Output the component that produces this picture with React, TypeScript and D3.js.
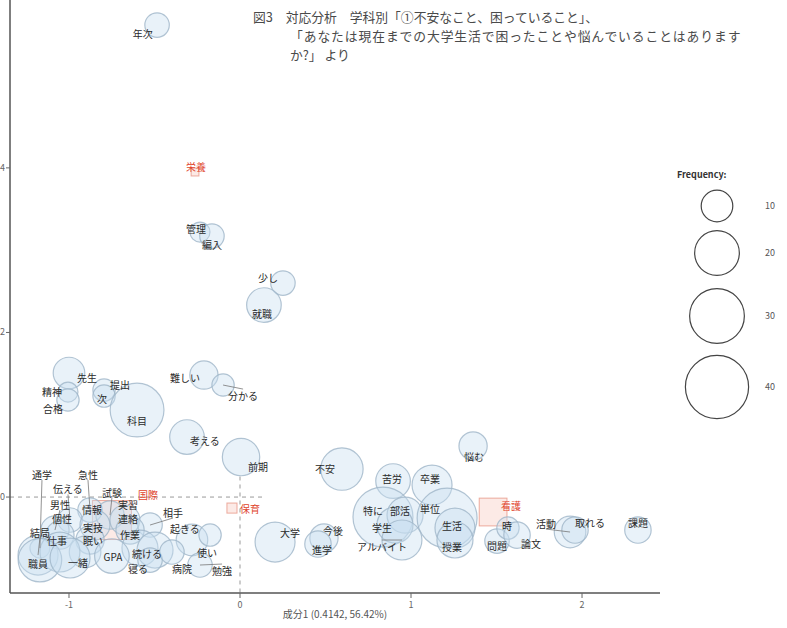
import React from "react";
import * as d3 from "d3";

// ---- data (correspondence analysis, dims 1 & 2) ----
const words = ["年次","管理","編入","少し","就職","先生","精神","合格","提出","次","科目","難しい","分かる","考える","前期","不安","悩む","苦労","卒業","特に","部活","単位","学生","アルバイト","生活","授業","問題","時","論文","活動","取れる","課題","大学","今後","進学","通学","急性","伝える","試験","男性","情報","実習","相手","個性","連絡","実技","起きる","結局","作業","眠い","仕事","使い","GPA","続ける","寝る","病院","勉強","職員","一緒"];
const dim1 = [-0.485,-0.234,-0.164,0.251,0.140,-1.000,-1.006,-1.006,-0.795,-0.795,-0.602,-0.211,-0.099,-0.310,0.006,0.596,1.363,0.895,1.123,0.836,0.965,1.211,0.906,0.947,1.257,1.257,1.503,1.567,1.620,1.930,1.959,2.327,0.205,0.491,0.456,-1.170,-0.877,-0.994,-0.760,-1.082,-0.848,-0.673,-0.526,-1.053,-0.643,-0.877,-0.281,-1.181,-0.585,-0.906,-1.053,-0.175,-0.749,-0.497,-0.526,-0.398,-0.234,-1.170,-0.994];
const dim2 = [5.735,3.220,3.171,2.600,2.333,1.507,1.276,1.179,1.300,1.227,1.057,1.482,1.361,0.729,0.486,0.340,0.620,0.194,0.146,-0.243,-0.219,-0.255,-0.340,-0.522,-0.377,-0.522,-0.535,-0.377,-0.462,-0.425,-0.401,-0.401,-0.547,-0.498,-0.571,-0.620,-0.158,-0.279,-0.219,-0.401,-0.340,-0.279,-0.340,-0.462,-0.401,-0.522,-0.522,-0.705,-0.620,-0.668,-0.668,-0.462,-0.717,-0.644,-0.766,-0.668,-0.826,-0.766,-0.741];
const freq = [6,4,6,6,12,10,4,5,5,5,29,8,5,12,14,18,8,12,16,36,13,36,13,16,16,13,6,5,7,10,7,7,16,8,7,4,6,6,8,8,9,9,6,8,8,8,10,16,13,10,16,5,12,13,6,6,6,19,16];
const labelDim1 = [-0.568,-0.257,-0.164,0.164,0.129,-0.895,-1.099,-1.094,-0.702,-0.807,-0.602,-0.322,0.018,-0.205,0.105,0.497,1.368,0.889,1.111,0.778,0.936,1.111,0.830,0.830,1.240,1.240,1.503,1.561,1.702,1.789,2.047,2.327,0.292,0.544,0.480,-1.158,-0.889,-1.006,-0.749,-1.053,-0.865,-0.655,-0.392,-1.041,-0.655,-0.860,-0.322,-1.170,-0.643,-0.860,-1.070,-0.193,-0.743,-0.544,-0.596,-0.339,-0.105,-1.181,-0.947];
const labelDim2 = [5.638,3.268,3.074,2.673,2.236,1.458,1.288,1.081,1.373,1.203,0.936,1.458,1.239,0.693,0.377,0.352,0.498,0.231,0.231,-0.158,-0.158,-0.134,-0.365,-0.595,-0.340,-0.595,-0.583,-0.340,-0.559,-0.316,-0.304,-0.304,-0.425,-0.401,-0.632,0.279,0.279,0.105,0.061,-0.085,-0.146,-0.095,-0.182,-0.262,-0.262,-0.365,-0.377,-0.425,-0.455,-0.530,-0.522,-0.668,-0.717,-0.685,-0.872,-0.863,-0.887,-0.802,-0.790];

const depts = ["栄養","国際","保育","看護"];
const deptDim1 = [-0.263,-0.749,-0.047,1.480];
const deptDim2 = [3.949,-0.279,-0.134,-0.182];
const deptN = [3,75,5,38];
const deptLabelDim1 = [-0.257,-0.538,0.058,1.585];
const deptLabelDim2 = [4.022,0.036,-0.134,-0.097];

const xTicks = [-1, 0, 1, 2];
const yTicks = [0, 2, 4];
const legendValues = [10, 20, 30, 40];
const xTitle = "成分1 (0.4142, 56.42%)";
const titleLines = [
  "図3　対応分析　学科別「①不安なこと、困っていること」、",
  "「あなたは現在までの大学生活で困ったことや悩んでいることはあります",
  "か?」 より",
];

const FONT = "'Noto Sans CJK JP', 'Noto Sans', sans-serif";

export default function App() {
  const W = 787, H = 628;
  const x = d3.scaleLinear().domain([-1.345, 2.456]).range([10, 660]);
  const y = d3.scaleLinear().domain([-1.166, 6.04]).range([593, 0]);
  const r = d3.scaleSqrt().domain([0, 40]).range([0, 31.6]);
  const side = d3.scaleSqrt().domain([0, 75]).range([0, 39]);

  const segs: JSX.Element[] = [];
  words.forEach((w, i) => {
    const px = x(dim1[i]), py = y(dim2[i]);
    const lx = x(labelDim1[i]), ly = y(labelDim2[i]);
    const d = Math.hypot(px - lx, py - ly);
    if (d > 20) {
      segs.push(<line key={"s" + i} x1={px} y1={py} x2={lx} y2={ly + (py > ly ? 6 : -6)} stroke="#777" strokeWidth={0.8} />);
    }
  });

  return (
    <svg width={W} height={H} style={{ position: "absolute", left: 0, top: 0, background: "#fff" }} fontFamily={FONT}>
      {/* title */}
      <g fill="#4a4a4a" fontSize={12.8}>
        <text x={253} y={22}>{titleLines[0]}</text>
        <text x={290} y={41} letterSpacing={0.9}>{titleLines[1]}</text>
        <text x={290} y={60}>{titleLines[2]}</text>
      </g>

      {/* reference lines */}
      <line x1={x(-1.345)} x2={x(0.15)} y1={y(0)} y2={y(0)} stroke="#999" strokeDasharray="4,4" strokeWidth={1} />
      <line x1={x(0)} x2={x(0)} y1={y(0.25)} y2={y(-1.166)} stroke="#999" strokeDasharray="4,4" strokeWidth={1} />

      {/* department squares */}
      {depts.map((dname, i) => {
        const s = side(deptN[i]);
        return (
          <rect key={"dq" + i} x={x(deptDim1[i]) - s / 2} y={y(deptDim2[i]) - s / 2} width={s} height={s}
            fill="#f9d9d2" fillOpacity={0.55} stroke="#e58a78" strokeOpacity={0.7} strokeWidth={1} />
        );
      })}

      {/* word bubbles */}
      {words.map((w, i) => (
        <circle key={"c" + i} cx={x(dim1[i])} cy={y(dim2[i])} r={r(freq[i])}
          fill="#c9dff0" fillOpacity={0.4} stroke="#9fb5c8" strokeOpacity={0.8} strokeWidth={1.2} />
      ))}

      {segs}

      {/* word labels */}
      <g fontSize={10} fill="#2a2a2a" textAnchor="middle" dominantBaseline="central">
        {words.map((w, i) => (
          <text key={"t" + i} x={x(labelDim1[i])} y={y(labelDim2[i])}>{w}</text>
        ))}
      </g>

      {/* department labels */}
      <g fontSize={10} fill="#e0442c" textAnchor="middle" dominantBaseline="central">
        {depts.map((dname, i) => (
          <text key={"dt" + i} x={x(deptLabelDim1[i])} y={y(deptLabelDim2[i])}>{dname}</text>
        ))}
      </g>

      {/* axes */}
      <line x1={10} x2={10} y1={y.range()[1]} y2={y.range()[0]} stroke="#555" strokeWidth={1.5} />
      <line x1={x.range()[0]} x2={x.range()[1]} y1={593} y2={593} stroke="#555" strokeWidth={1.5} />
      {xTicks.map((t) => (
        <g key={"xt" + t}>
          <line x1={x(t)} x2={x(t)} y1={593} y2={598} stroke="#666" />
          <text x={x(t)} y={608} fontSize={9} fill="#666" textAnchor="middle">{t}</text>
        </g>
      ))}
      {yTicks.map((t) => (
        <g key={"yt" + t}>
          <line x1={6} x2={10} y1={y(t)} y2={y(t)} stroke="#666" />
          <text x={5} y={y(t) + 3} fontSize={9} fill="#666" textAnchor="end">{t}</text>
        </g>
      ))}
      <text x={(x.range()[0] + x.range()[1]) / 2} y={618} fontSize={10} fill="#555" textAnchor="middle">{xTitle}</text>

      {/* legend */}
      <text x={677} y={178} fontSize={9} fontWeight="bold" fill="#333">Frequency:</text>
      {legendValues.map((v, i) => {
        const cy = [206, 253, 316, 387][i];
        return (
          <g key={"lg" + v}>
            <circle cx={717} cy={cy} r={r(v)} fill="none" stroke="#444" strokeWidth={1.2} />
            <text x={770} y={cy + 3} fontSize={9} fill="#555" textAnchor="middle">{v}</text>
          </g>
        );
      })}
    </svg>
  );
}
